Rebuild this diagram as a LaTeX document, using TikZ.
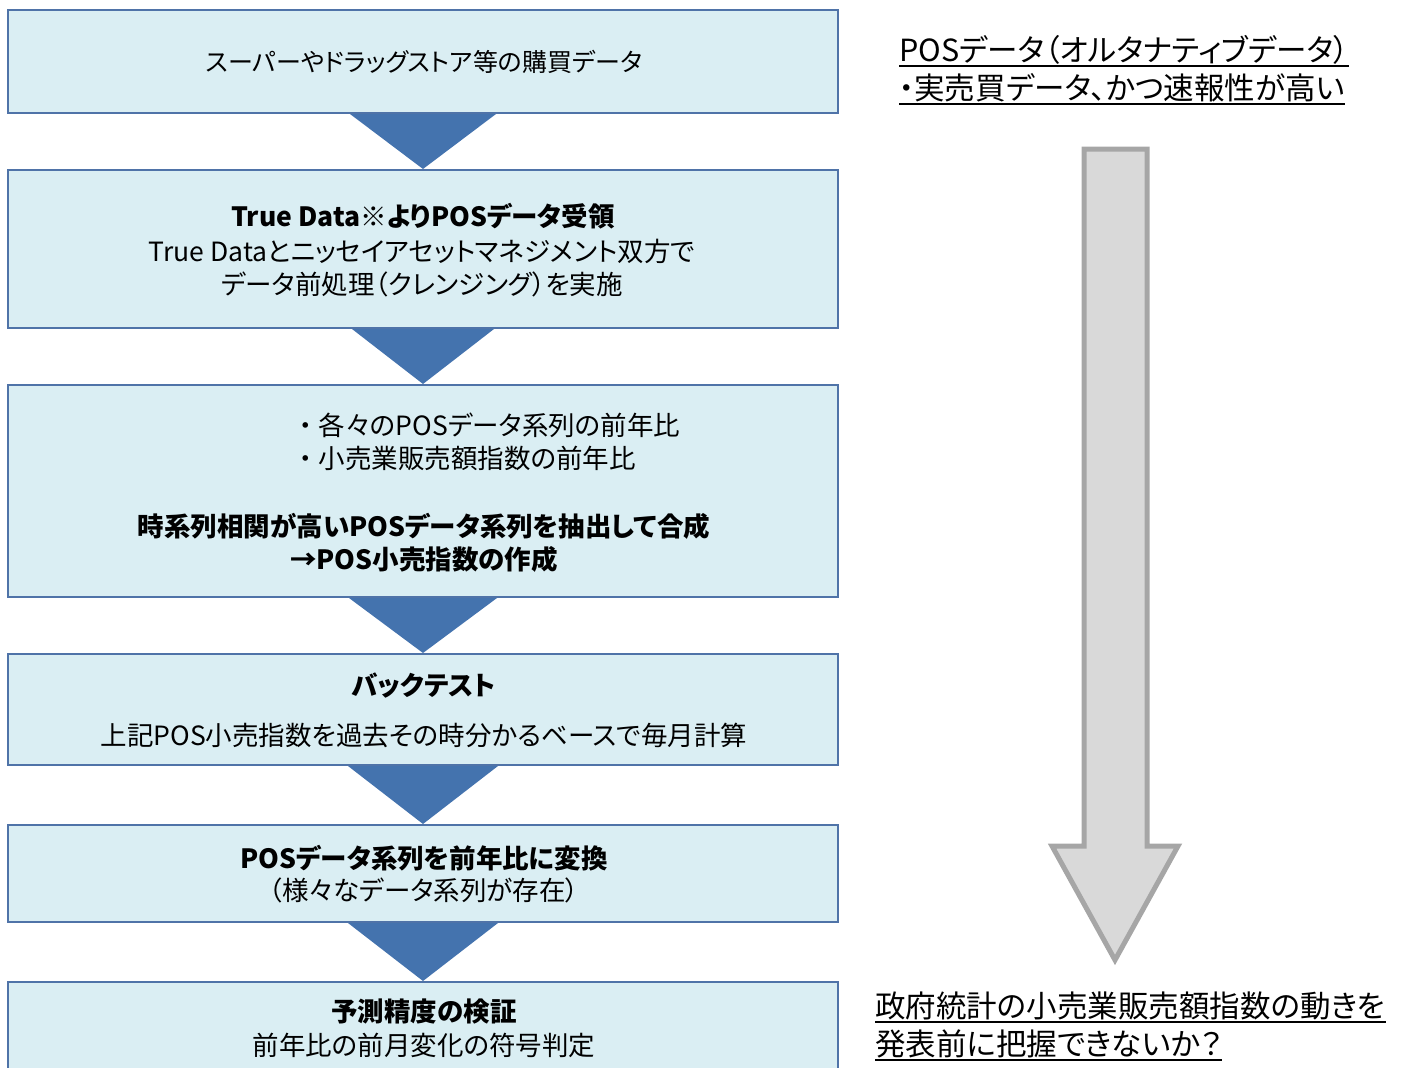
\documentclass[tikz,border=0pt]{standalone}
\usepackage{fontspec}
\setmainfont{Noto Sans CJK JP}[RawFeature=+palt]
\newfontfamily\fullw{Noto Sans CJK JP}
\definecolor{boxfill}{HTML}{DAEEF3}
\definecolor{boxline}{HTML}{4F73A8}
\definecolor{chevfill}{HTML}{4473AE}
\definecolor{arrfill}{HTML}{D9D9D9}
\definecolor{arrline}{HTML}{A6A6A6}
\begin{document}
\begin{tikzpicture}[x=1pt,y=-1pt,
  box/.style={draw=boxline, fill=boxfill, line width=2pt, minimum width=830pt, inner sep=0pt},
  chev/.style={fill=chevfill},
  txt/.style={font=\fontsize{26.5}{30}\selectfont, inner sep=0pt, anchor=center},
  btxt/.style={txt, font=\fontsize{26.5}{30}\selectfont\bfseries},
  note/.style={font=\fontsize{30.5}{34}\selectfont, inner sep=0pt, anchor=base west},
  uline/.style={line width=1.5pt, black},
  bigarrow/.style={draw=arrline, fill=arrfill, line width=5pt, line join=miter}
  ]
\useasboundingbox (0,0) rectangle (1406,1068);
\clip (0,0) rectangle (1406,1068);
% boxes
\node[box, minimum height=103pt] (b1) at (423,61.5) {};
\node[box, minimum height=158pt] (b2) at (423,249) {};
\node[box, minimum height=212pt] (b3) at (423,491) {};
\node[box, minimum height=111pt] (b4) at (423,709.5) {};
\node[box, minimum height=97pt] (b5) at (423,873.5) {};
\node[box, minimum height=120pt] (b6) at (423,1042) {};
% chevrons
\fill[chev] ([xshift=-73pt]b1.south) -- ([xshift=73pt]b1.south) -- (b2.north) -- cycle;
\fill[chev] ([xshift=-71pt]b2.south) -- ([xshift=71pt]b2.south) -- (b3.north) -- cycle;
\fill[chev] ([xshift=-74pt]b3.south) -- ([xshift=74pt]b3.south) -- (b4.north) -- cycle;
\fill[chev] ([xshift=-75pt]b4.south) -- ([xshift=75pt]b4.south) -- (b5.north) -- cycle;
\fill[chev] ([xshift=-75pt]b5.south) -- ([xshift=75pt]b5.south) -- (b6.north) -- cycle;
% texts
\node[txt, font=\fontsize{25}{30}\selectfont] (t1) at (424,62) {スーパーやドラッグストア等の購買データ};
\node[btxt] (t2a) at (423,216) {True Data※よりPOSデータ受領};
\node[txt] (t2b) at (422,251) {True Dataとニッセイアセットマネジメント双方で};
\node[txt] (t2c) at (422,284) {データ前処理（クレンジング）を実施};
\node[txt, anchor=west] (t3a) at (292,425) {{\fullw ・}各々のPOSデータ系列の前年比};
\node[txt, anchor=west] (t3b) at (292,458) {{\fullw ・}小売業販売額指数の前年比};
\node[btxt] (t3c) at (424,526) {時系列相関が高いPOSデータ系列を抽出して合成};
\node[btxt] (t3d) at (424,559) {→POS小売指数の作成};
\node[btxt] (t4a) at (424,686) {バックテスト};
\node[txt] (t4b) at (424,735) {上記POS小売指数を過去その時分かるベースで毎月計算};
\node[btxt] (t5a) at (424,858) {POSデータ系列を前年比に変換};
\node[txt] (t5b) at (424,890) {（様々なデータ系列が存在）};
\node[btxt] (t6a) at (424,1011) {予測精度の検証};
\node[txt] (t6b) at (424,1045) {前年比の前月変化の符号判定};
% right notes
\node[note] (n1) at (899,61) {POSデータ（オルタナティブデータ）};
\node[note] (n2) at (899,99) {・実売買データ、かつ速報性が高い};
\draw[uline] ([yshift=-5pt]n1.base west) -- ([yshift=-5pt]n1.base east);
\draw[uline] ([yshift=-5pt]n2.base west) -- ([yshift=-5pt]n2.base east);
\node[note] (n3) at (875,1017) {政府統計の小売業販売額指数の動きを};
\node[note] (n4) at (875,1055) {発表前に把握できないか？};
\draw[uline] ([yshift=-5pt]n3.base west) -- ([yshift=-5pt]n3.base east);
\draw[uline] ([yshift=-5pt]n4.base west) -- ([yshift=-5pt]n4.base east);
% big arrow
\coordinate (a1) at (1084,149);
\coordinate (a2) at (1147,149);
\coordinate (a3) at (1147,846);
\coordinate (a4) at (1178,846);
\coordinate (a5) at (1115,960);
\coordinate (a6) at (1052,846);
\coordinate (a7) at (1084,846);
\draw[bigarrow] (a1) -- (a2) -- (a3) -- (a4) -- (a5) -- (a6) -- (a7) -- cycle;
\end{tikzpicture}
\end{document}
